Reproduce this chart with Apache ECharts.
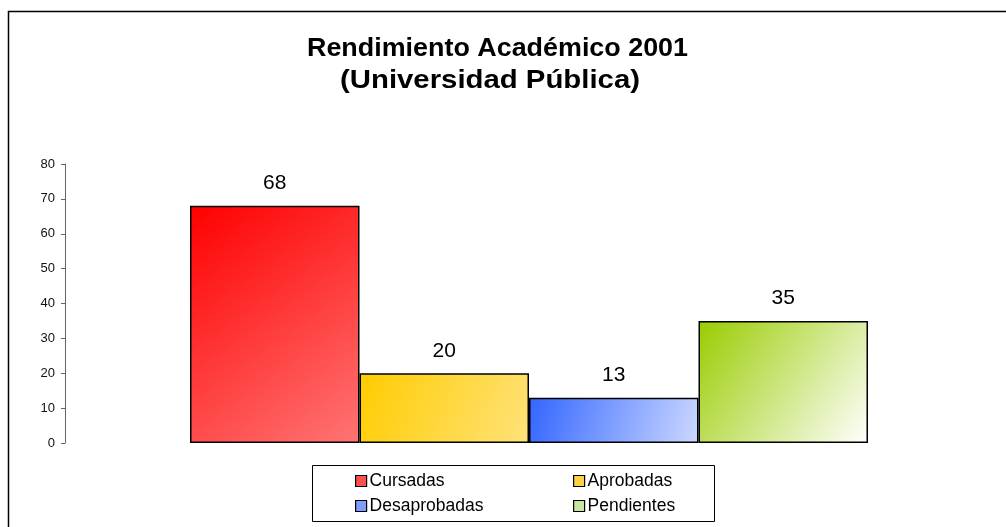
<!DOCTYPE html>
<html>
<head>
<meta charset="utf-8">
<script src="https://cdn.jsdelivr.net/npm/echarts@6/dist/echarts.min.js"></script>
<style>html,body{margin:0;padding:0;background:#fff}#c{width:1006px;height:527px}</style>
</head>
<body>
<div id="c"></div>
<script>
const titleLines = ['Rendimiento Académico 2001', '(Universidad Pública)'];
const seriesNames = ['Cursadas', 'Aprobadas', 'Desaprobadas', 'Pendientes'];
const seriesValues = [68, 20, 13, 35];
const yTicks = [0, 10, 20, 30, 40, 50, 60, 70, 80];
const gradStart = ['#ff0000', '#ffcc00', '#3366ff', '#99cc00'];
const gradEnd = ['#ff7474', '#ffe27a', '#ccd8ff', '#ffffff'];
const legendColors = ['#ff5050', '#ffd040', '#7f9cff', '#c8e6a0'];

const chart = echarts.init(document.getElementById('c'));
const font = 'Liberation Sans, Arial, sans-serif';
const titleFont = 'bold 25px "Liberation Sans", Arial, sans-serif';

// stretch title horizontally to mimic the wide letter spacing of the original
const mctx = document.createElement('canvas').getContext('2d');
mctx.font = titleFont;
const titleTargetW = [381, 300];
const titleCenterX = [497.5, 490];
const titleY = [49.5, 81.5];

const series = seriesNames.map((n, i) => ({
  name: n,
  type: 'bar',
  data: [seriesValues[i]],
  barWidth: 169.5,
  barGap: '0%',
  itemStyle: {
    color: new echarts.graphic.LinearGradient(0, 0, 1, 1, [
      { offset: 0, color: gradStart[i] },
      { offset: 1, color: gradEnd[i] }
    ]),
    borderColor: '#000',
    borderWidth: 1.5
  },
  label: {
    show: true,
    position: 'top',
    distance: 12,
    color: '#000',
    fontSize: 21,
    fontFamily: font
  }
}));

function legendItem(i) {
  return { name: seriesNames[i], itemStyle: { color: legendColors[i], borderColor: '#000', borderWidth: 1.2 } };
}
function legendCol(idxs, left) {
  return {
    data: idxs.map(legendItem),
    orient: 'vertical',
    left: left, top: 472,
    padding: 0,
    itemWidth: 11, itemHeight: 11, itemGap: 7,
    icon: 'rect',
    textStyle: { fontSize: 17.5, fontFamily: font, color: '#000', padding: [0, 0, 0, -2] }
  };
}

const titleGraphics = titleLines.map((t, i) => {
  const w = mctx.measureText(t).width;
  return {
    type: 'text',
    x: titleCenterX[i], y: titleY[i],
    scaleX: titleTargetW[i] / w,
    silent: true,
    style: { text: t, font: titleFont, fill: '#000', align: 'center', verticalAlign: 'middle' }
  };
});

chart.setOption({
  animation: false,
  backgroundColor: '#fff',
  grid: { left: 65, right: 13, top: 164, bottom: 84, containLabel: false },
  xAxis: {
    type: 'category',
    data: [''],
    axisLine: { show: false },
    axisTick: { show: false },
    axisLabel: { show: false }
  },
  yAxis: {
    type: 'value',
    min: yTicks[0],
    max: yTicks[yTicks.length - 1],
    interval: 10,
    splitLine: { show: false },
    axisLine: { show: true, lineStyle: { color: '#666', width: 1 } },
    axisTick: { show: true, length: 4, lineStyle: { color: '#666' } },
    axisLabel: { color: '#111', fontSize: 13, fontFamily: font, margin: 10 }
  },
  legend: [legendCol([0, 2], 355), legendCol([1, 3], 573)],
  graphic: [
    { type: 'rect', shape: { x: 8.5, y: 11.5, width: 1100, height: 700 }, style: { fill: 'none', stroke: '#000', lineWidth: 1.5 }, silent: true },
    { type: 'rect', shape: { x: 312.5, y: 465.5, width: 402, height: 56 }, style: { fill: 'none', stroke: '#000', lineWidth: 1 }, silent: true }
  ].concat(titleGraphics),
  series: series
});
</script>
</body>
</html>
